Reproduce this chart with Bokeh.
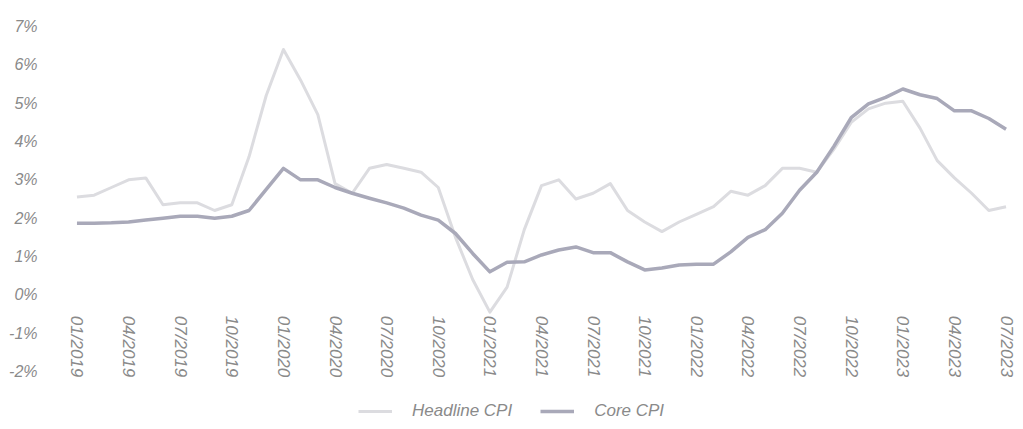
from bokeh.plotting import figure
from bokeh.models import Range1d, FixedTicker, Legend, LegendItem, ColumnDataSource
from bokeh.embed import file_html
from bokeh.resources import INLINE

months = ["01/2019","02/2019","03/2019","04/2019","05/2019","06/2019","07/2019","08/2019","09/2019","10/2019","11/2019","12/2019",
          "01/2020","02/2020","03/2020","04/2020","05/2020","06/2020","07/2020","08/2020","09/2020","10/2020","11/2020","12/2020",
          "01/2021","02/2021","03/2021","04/2021","05/2021","06/2021","07/2021","08/2021","09/2021","10/2021","11/2021","12/2021",
          "01/2022","02/2022","03/2022","04/2022","05/2022","06/2022","07/2022","08/2022","09/2022","10/2022","11/2022","12/2022",
          "01/2023","02/2023","03/2023","04/2023","05/2023","06/2023","07/2023"]

headline_cpi = [2.55, 2.6, 2.8, 3.0, 3.05, 2.35, 2.4, 2.4, 2.2, 2.35, 3.6, 5.2,
                6.4, 5.6, 4.7, 2.9, 2.65, 3.3, 3.4, 3.3, 3.2, 2.8, 1.5, 0.4,
                -0.45, 0.2, 1.7, 2.85, 3.0, 2.5, 2.65, 2.9, 2.2, 1.9, 1.65, 1.9,
                2.1, 2.3, 2.7, 2.6, 2.85, 3.3, 3.3, 3.2, 3.8, 4.5, 4.85, 5.0,
                5.05, 4.35, 3.5, 3.05, 2.65, 2.2, 2.3]

core_cpi = [1.87, 1.87, 1.88, 1.9, 1.95, 2.0, 2.05, 2.05, 2.0, 2.05, 2.2, 2.75,
            3.3, 3.0, 3.0, 2.8, 2.65, 2.52, 2.4, 2.26, 2.08, 1.95, 1.6, 1.08,
            0.6, 0.85, 0.86, 1.04, 1.17, 1.25, 1.1, 1.1, 0.86, 0.65, 0.7, 0.78,
            0.8, 0.8, 1.12, 1.5, 1.7, 2.13, 2.73, 3.2, 3.88, 4.62, 4.98, 5.15,
            5.37, 5.22, 5.12, 4.8, 4.8, 4.6, 4.32]

y_ticks = [-2, -1, 0, 1, 2, 3, 4, 5, 6, 7]
y_tick_labels = {t: f"{t}%" for t in y_ticks}
x_tick_idx = list(range(0, len(months), 3))
x_tick_labels = {i: months[i] for i in x_tick_idx}

FONT = "'Liberation Sans', Arial, sans-serif"
TXT = "#8a8a8a"

src = ColumnDataSource(dict(x=list(range(len(months))), head=headline_cpi, core=core_cpi))

p = figure(width=1015, height=421, output_backend="svg", toolbar_location=None,
           x_range=Range1d(-0.55, len(months) - 1 + 0.55),
           y_range=Range1d(7 - 395 / (345 / 9), 7),
           min_border_left=67, min_border_right=0, min_border_top=26, min_border_bottom=0)
p.outline_line_color = None
p.grid.visible = False
p.background_fill_color = "white"
p.border_fill_color = "white"

# x axis fixed at 0%
xa = p.xaxis[0]
xa.fixed_location = 0
xa.ticker = FixedTicker(ticks=x_tick_idx)
xa.major_label_overrides = x_tick_labels
xa.major_label_orientation = "vertical"
xa.axis_line_color = None
xa.major_tick_line_color = None
xa.minor_tick_line_color = None
xa.major_label_standoff = 15
xa.major_label_text_font = FONT
xa.major_label_text_font_style = "italic"
xa.major_label_text_font_size = "17px"
xa.major_label_text_color = TXT

ya = p.yaxis[0]
ya.ticker = FixedTicker(ticks=y_ticks)
ya.major_label_overrides = y_tick_labels
ya.axis_line_color = None
ya.major_tick_line_color = None
ya.minor_tick_line_color = None
ya.major_label_standoff = 24
ya.major_label_text_font = FONT
ya.major_label_text_font_style = "italic"
ya.major_label_text_font_size = "16px"
ya.major_label_text_color = TXT

r_head = p.line("x", "head", source=src, line_color="#dcdce0", line_width=3, line_join="round")
r_core = p.line("x", "core", source=src, line_color="#a9a9b9", line_width=3.5, line_join="round")

legend = Legend(items=[LegendItem(label="Headline CPI", renderers=[r_head]),
                       LegendItem(label="Core CPI", renderers=[r_core])],
                orientation="horizontal", location=(291, 0))
legend.border_line_color = None
legend.background_fill_alpha = 0
legend.padding = 4
legend.margin = 0
legend.glyph_width = 34
legend.label_standoff = 20
legend.spacing = 28
legend.label_text_font = FONT
legend.label_text_font_style = "italic"
legend.label_text_font_size = "17px"
legend.label_text_color = TXT
p.add_layout(legend)

open("out.html", "w").write(file_html(p, INLINE))
